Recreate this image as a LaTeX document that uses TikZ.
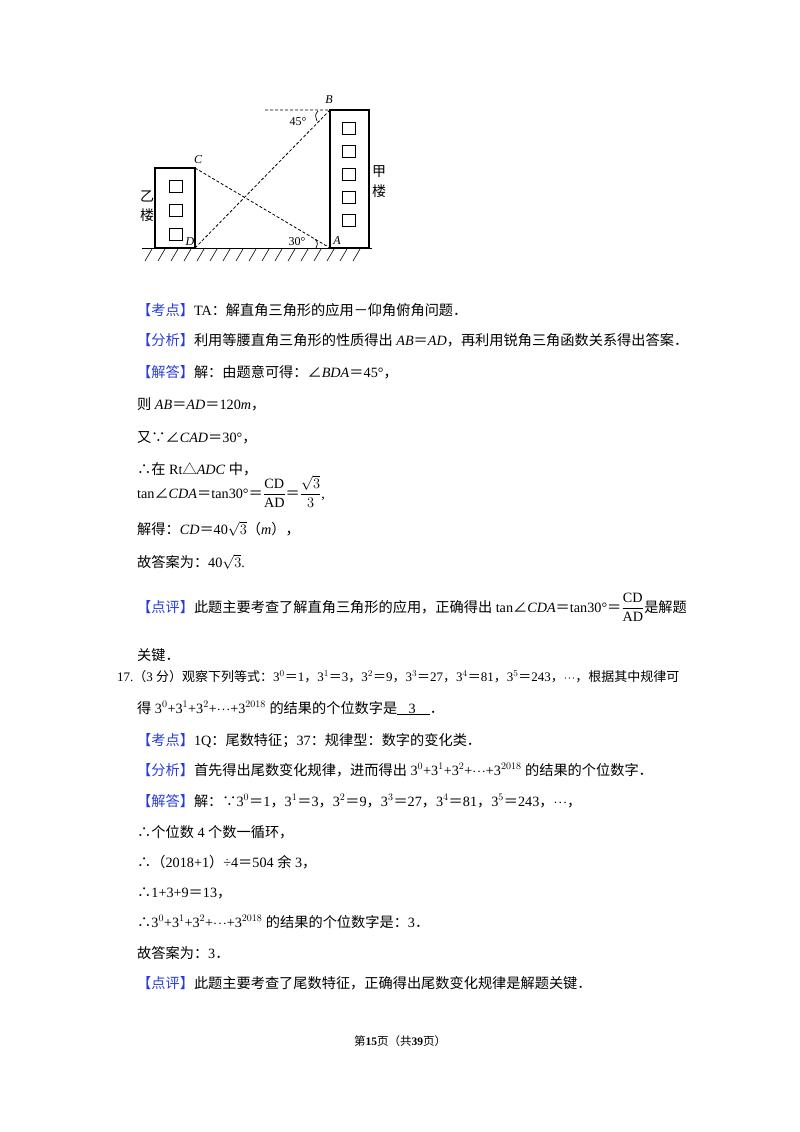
\documentclass[tikz,border=0pt]{standalone}
\usepackage{fontspec}
\setmainfont{Liberation Serif}
\newfontfamily\cjkfam{Noto Sans CJK SC}
\XeTeXinterchartokenstate=1
\newXeTeXintercharclass\cjkclass
\makeatletter
\count@="3000 \loop\ifnum\count@<"A000 \XeTeXcharclass\count@=\cjkclass \advance\count@ 1 \repeat
\count@="FF00 \loop\ifnum\count@<"FFF0 \XeTeXcharclass\count@=\cjkclass \advance\count@ 1 \repeat
\makeatother
\XeTeXcharclass"2234=\cjkclass \XeTeXcharclass"2235=\cjkclass
\XeTeXcharclass"2220=\cjkclass \XeTeXcharclass"25B3=\cjkclass
\XeTeXinterchartoks 0 \cjkclass = {\cjkfam}
\XeTeXinterchartoks 4095 \cjkclass = {\cjkfam}
\XeTeXinterchartoks \cjkclass 0 = {\rmfamily}
\XeTeXinterchartoks \cjkclass 4095 = {\rmfamily}
\definecolor{kblue}{RGB}{40,60,220}
\newcommand{\tg}[1]{\textcolor{kblue}{【#1】}}
\newcommand{\fr}[2]{$\displaystyle\frac{#1}{#2}$}
\newcommand{\cd}{$\cdot\!\cdot\!\cdot$}
\begin{document}
\begin{tikzpicture}[x=1pt,y=-1pt,
  txt/.style={anchor=base west,inner sep=0pt,font=\fontsize{14.2}{16}\selectfont},
  lab/.style={inner sep=0pt,font=\fontsize{12}{12}\selectfont\itshape},
  dsh/.style={dashed,dash pattern=on 3pt off 2pt,line width=0.8pt}]
\useasboundingbox (0,0) rectangle (800,1132);
% figure
\draw[line width=0.7pt] (142,248) -- (372,248);
\draw[line width=1.6pt] (155,248) -- (195,248) (330,248) -- (369,248);
\foreach \x in {152,165,...,372} \draw[line width=0.6pt] (\x,249) -- (\x-7,261);
\draw[line width=1.1pt] (155,248) rectangle (195,168);
\draw[line width=1.1pt] (330,248) rectangle (369,110);
\foreach \y in {180,204,228} \draw[line width=0.9pt] (169,\y) rectangle (182,\y+12);
\foreach \y in {122,145,168,191,214} \draw[line width=0.9pt] (342,\y) rectangle (355,\y+12);
\coordinate (B) at (330,110); \coordinate (C) at (195,168);
\coordinate (D) at (195,248); \coordinate (A) at (330,248);
\coordinate (H) at (265,110);
\draw[dsh] (H) -- (B) -- (D);
\draw[dsh] (C) -- (A);
\draw[line width=0.7pt] (318,111) .. controls (315,115) .. (317,121);
\draw[line width=0.7pt] (315,239) .. controls (318,243) .. (316,248);
\node[lab] at (329,100) {B};
\node[lab] at (198,160) {C};
\node[lab] at (190,242) {D};
\node[lab] at (337,241) {A};
\node[inner sep=0pt,font=\fontsize{12}{12}\selectfont] at (298,122) {45°};
\node[inner sep=0pt,font=\fontsize{12}{12}\selectfont] at (297,242) {30°};
\node[inner sep=0pt,font=\fontsize{14}{14}\selectfont\cjkfam] at (147,196) {乙};
\node[inner sep=0pt,font=\fontsize{14}{14}\selectfont\cjkfam] at (147,215) {楼};
\node[inner sep=0pt,font=\fontsize{14}{14}\selectfont\cjkfam] at (379,172) {甲};
\node[inner sep=0pt,font=\fontsize{14}{14}\selectfont\cjkfam] at (379,191) {楼};
% text
\node[txt] (t1) at (137,315) {\tg{考点}TA：解直角三角形的应用－仰角俯角问题．};
\node[txt] (t2) at (137,345) {\tg{分析}利用等腰直角三角形的性质得出 \textit{AB}＝\textit{AD}，再利用锐角三角函数关系得出答案．};
\node[txt] (t3) at (137,377) {\tg{解答}解：由题意可得：∠\textit{BDA}＝45°，};
\node[txt] (t4) at (137,409) {则 \textit{AB}＝\textit{AD}＝120\textit{m}，};
\node[txt] (t5) at (137,442) {又∵∠\textit{CAD}＝30°，};
\node[txt] (t6) at (137,474) {∴在 Rt△\textit{ADC} 中，};
\node[txt] (t7) at (137,498) {tan∠\textit{CDA}＝tan30°＝\fr{\mathrm{CD}}{\mathrm{AD}}＝\fr{\sqrt{3}}{3},};
\node[txt] (t8) at (137,534) {解得：\textit{CD}＝40$\sqrt{3}$（\textit{m}），};
\node[txt] (t9) at (137,567) {故答案为：40$\sqrt{3}$.};
\node[txt] (t10) at (137,612) {\tg{点评}此题主要考查了解直角三角形的应用，正确得出 tan∠\textit{CDA}＝tan30°＝\fr{\mathrm{CD}}{\mathrm{AD}}是解题};
\node[txt] (t11) at (137,660) {关键．};
\node[txt,font=\fontsize{13}{16}\selectfont] (t12) at (117,681) {17.（3 分）观察下列等式：3$^0$＝1，3$^1$＝3，3$^2$＝9，3$^3$＝27，3$^4$＝81，3$^5$＝243，\cd，根据其中规律可};
\node[txt] (t13) at (137,713) {得 3$^0$+3$^1$+3$^2$+\cd+3$^{2018}$ 的结果的个位数字是\underline{\hspace{0.8em}3\hspace{1em}}．};
\node[txt] (t14) at (137,745) {\tg{考点}1Q：尾数特征；37：规律型：数字的变化类．};
\node[txt] (t15) at (137,775) {\tg{分析}首先得出尾数变化规律，进而得出 3$^0$+3$^1$+3$^2$+\cd+3$^{2018}$ 的结果的个位数字．};
\node[txt] (t16) at (137,806) {\tg{解答}解：∵3$^0$＝1，3$^1$＝3，3$^2$＝9，3$^3$＝27，3$^4$＝81，3$^5$＝243，\cd，};
\node[txt] (t17) at (137,837) {∴个位数 4 个数一循环，};
\node[txt] (t18) at (137,867) {∴（2018+1）÷4＝504 余 3，};
\node[txt] (t19) at (137,897) {∴1+3+9＝13，};
\node[txt] (t20) at (137,927) {∴3$^0$+3$^1$+3$^2$+\cd+3$^{2018}$ 的结果的个位数字是：3．};
\node[txt] (t21) at (137,958) {故答案为：3．};
\node[txt] (t22) at (137,988) {\tg{点评}此题主要考查了尾数特征，正确得出尾数变化规律是解题关键．};
\node[inner sep=0pt,font=\fontsize{11.5}{13}\selectfont] (ft) at (400,1041) {第\textbf{15}页（共\textbf{39}页）};
\end{tikzpicture}
\end{document}
